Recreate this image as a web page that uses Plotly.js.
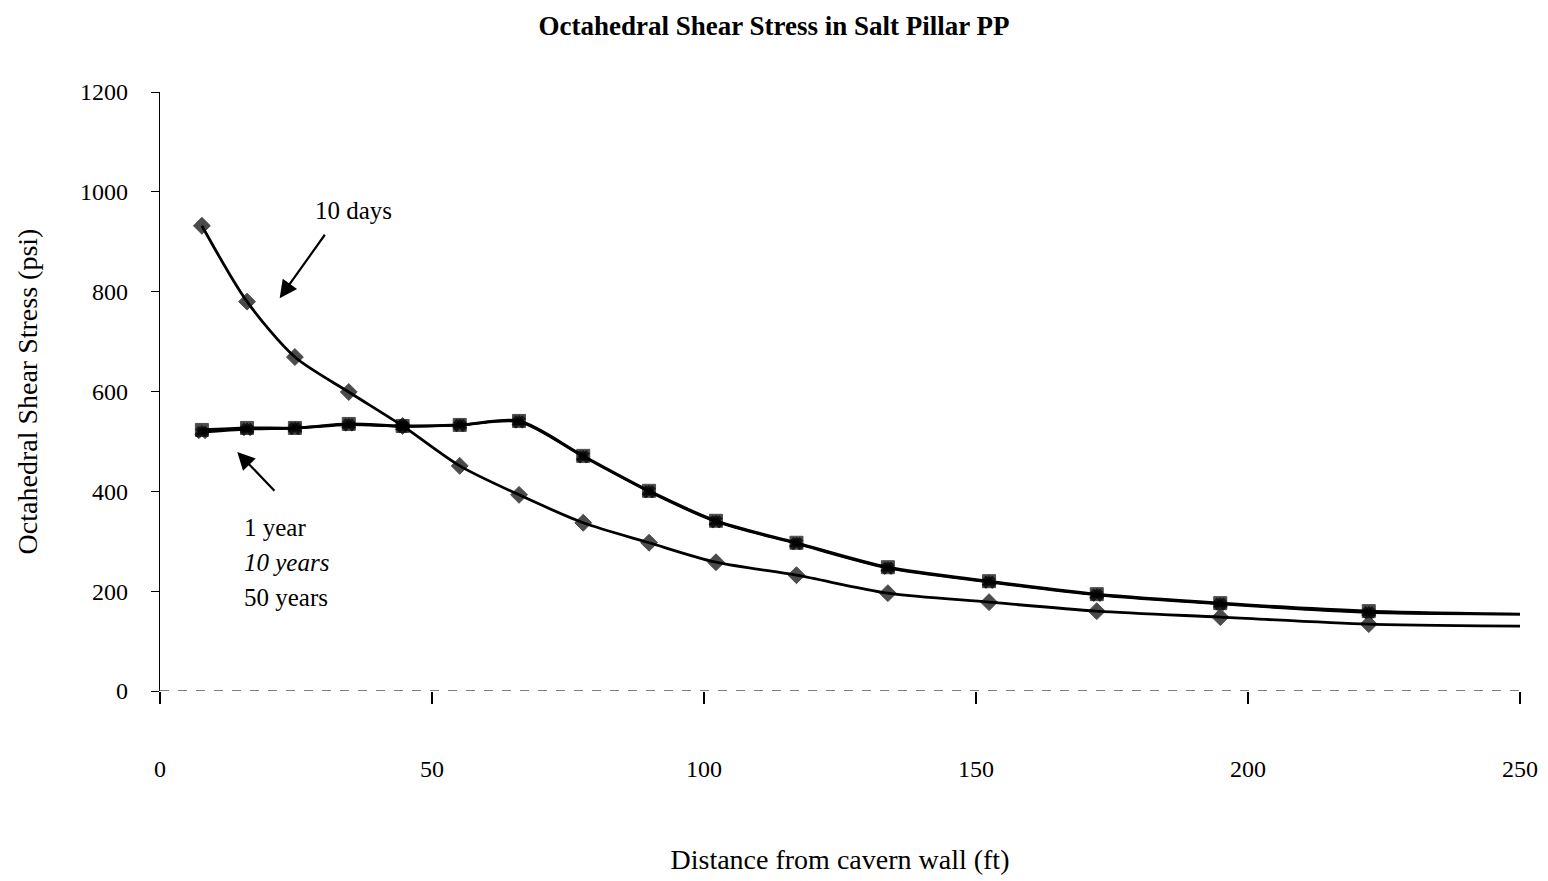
<!DOCTYPE html>
<html>
<head>
<meta charset="utf-8">
<script src="https://cdn.plot.ly/plotly-3.0.1.min.js"></script>
<style>html,body{margin:0;padding:0;background:#fff;}#chart{width:1548px;height:881px;}</style>
</head>
<body>
<div id="chart"></div>
<script>
// Distance from cavern wall (ft)
const distance = [7.7, 16, 24.8, 34.7, 44.6, 55.1, 66, 77.8, 89.9, 102.2, 117, 133.8, 152.4, 172.2, 194.9, 222.2, 251];
// Octahedral shear stress (psi)
const days10 = [932, 780, 669, 599, 531, 451, 393, 337, 297, 258, 232, 196, 178, 160, 148, 134, 130];
const year1 = [523, 527, 527, 535, 531, 533, 541, 471, 401, 341, 297, 248, 220, 194, 176, 160, 154];
const years10 = [520, 525, 527, 534, 530, 533, 540, 470, 400, 340, 296, 247, 219, 193, 175, 158, 154];
const years50 = [518, 524, 526, 533, 530, 532, 539, 469, 399, 339, 295, 246, 218, 192, 174, 157, 154];
const markerCount = 16; // last point is line end only
const yTicks = [0, 200, 400, 600, 800, 1000, 1200];
const xTicks = [0, 50, 100, 150, 200, 250];

const font = "Liberation Serif, Times New Roman, serif";

function sizes(n){ return distance.map((d,i)=> i < markerCount ? n : 0); }
const mline = {color:"#000", width:1};

const traces = [
  {x: distance, y: days10, name: "10 days", mode: "lines+markers", line:{color:"#000", width:2.8, shape:"spline", smoothing:0.8},
   marker:{symbol:"diamond", size:sizes(13), color:"#000", line:mline}},
  {x: distance, y: years50, name: "50 years", mode: "lines+markers", line:{color:"#000", width:2.2, shape:"spline", smoothing:0.8},
   marker:{symbol:"x", size:sizes(11), color:"#000", line:mline}},
  {x: distance, y: years10, name: "10 years", mode: "lines+markers", line:{color:"#000", width:2.2, shape:"spline", smoothing:0.8},
   marker:{symbol:"triangle-up", size:sizes(12), color:"#000", line:mline}},
  {x: distance, y: year1, name: "1 year", mode: "lines+markers", line:{color:"#000", width:2.8, shape:"spline", smoothing:0.8},
   marker:{symbol:"square", size:sizes(13), color:"#000", line:mline}}
];

const layout = {
  width: 1548, height: 881,
  paper_bgcolor: "#fff", plot_bgcolor: "#fff",
  margin: {l:160, r:28, t:92, b:190},
  showlegend: false,
  font: {family: font, color: "#000", size: 23},
  title: {text: "<b>Octahedral Shear Stress in Salt Pillar PP</b>", x: 0.5, xanchor: "center", y: 0.982, yanchor: "top",
          font: {family: font, size: 27, color: "#000"}},
  xaxis: {range: [0, 250], tickvals: xTicks, ticktext: xTicks.map(String), showgrid: false, zeroline: false,
          showline: false, ticks: "outside", ticklen: 12, tickcolor: "#000", tickwidth: 1.2,
          ticklabelstandoff: 44, tickfont: {family: font, size: 24},
          title: {text: "Distance from cavern wall (ft)", standoff: 68, font: {family: font, size: 28}}},
  yaxis: {range: [0, 1200], tickvals: yTicks, ticktext: yTicks.map(String), showgrid: false, zeroline: false,
          showline: true, linecolor: "#000", linewidth: 1.2, ticks: "outside", ticklen: 8, tickcolor: "#000",
          ticklabelstandoff: 18, tickfont: {family: font, size: 24},
          title: {text: "Octahedral Shear Stress (psi)", standoff: 34, font: {family: font, size: 28}}},
  shapes: [
    {type: "line", xref: "x", yref: "y", x0: 0, x1: 250, y0: 0, y1: 0, line: {color: "#555", width: 1.5, dash: "dash"}}
  ],
  annotations: [
    {x: 22, y: 787, ax: 30.5, ay: 917, axref: "x", ayref: "y", xref: "x", yref: "y", text: "",
     showarrow: true, arrowhead: 2, arrowsize: 1.6, arrowwidth: 2.2, arrowcolor: "#000"},
    {x: 35.5, y: 962, xref: "x", yref: "y", text: "10 days", showarrow: false, font: {family: font, size: 25}},
    {x: 14.2, y: 479, ax: 21.3, ay: 398, axref: "x", ayref: "y", xref: "x", yref: "y", text: "",
     showarrow: true, arrowhead: 2, arrowsize: 1.6, arrowwidth: 2.2, arrowcolor: "#000"},
    {x: 15, y: 327, xref: "x", yref: "y", xanchor: "left", text: "1 year", showarrow: false, font: {family: font, size: 25}},
    {x: 15, y: 257, xref: "x", yref: "y", xanchor: "left", text: "<i>10 years</i>", showarrow: false, font: {family: font, size: 25}},
    {x: 15, y: 188, xref: "x", yref: "y", xanchor: "left", text: "50 years", showarrow: false, font: {family: font, size: 25}}
  ]
};

Plotly.newPlot("chart", traces, layout, {displayModeBar: false, staticPlot: true});
</script>
</body>
</html>
